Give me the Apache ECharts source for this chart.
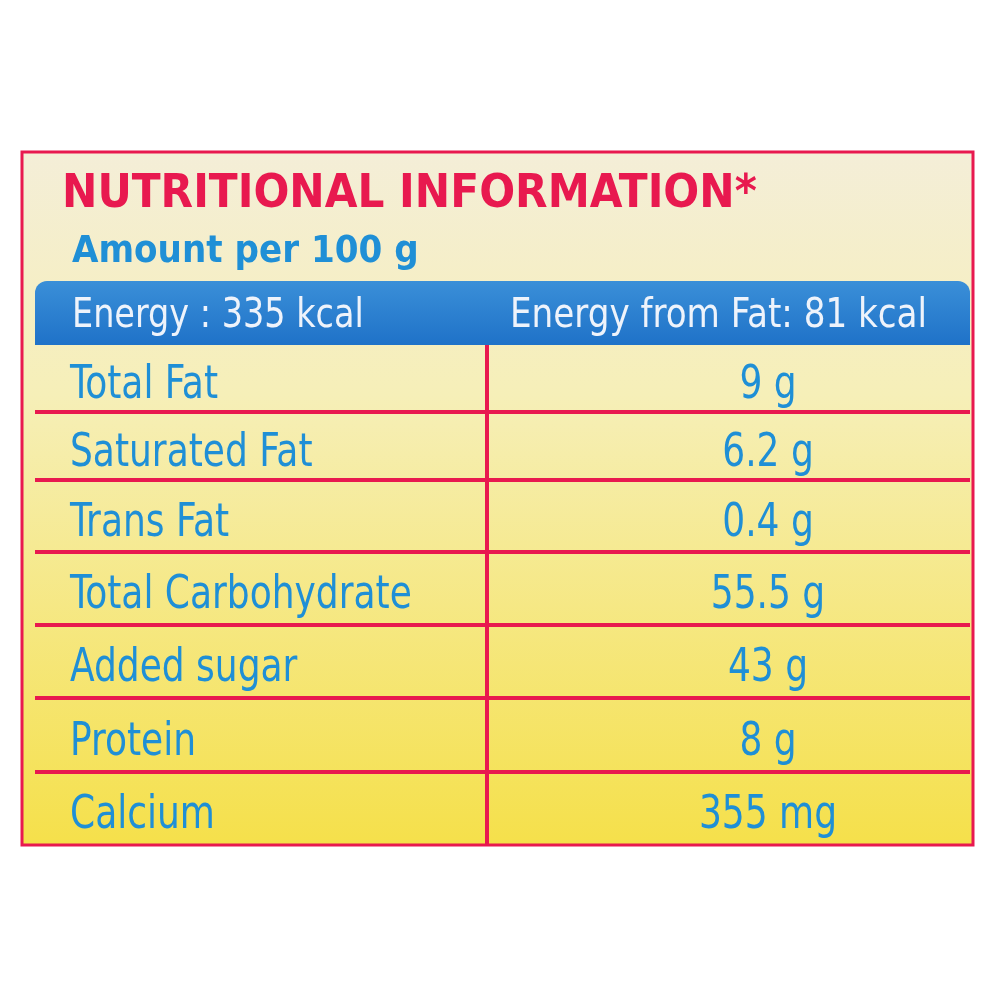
<!DOCTYPE html>
<html><head><meta charset="utf-8">
<script src="https://cdn.jsdelivr.net/npm/echarts@6/dist/echarts.min.js"></script>
<style>html,body{margin:0;padding:0;background:#fff}#c{width:1000px;height:1000px}</style>
</head><body><div id="c"></div>
<script>
const title = "NUTRITIONAL INFORMATION*";
const subtitle = "Amount per 100 g";
const headerLabels = ["Energy : 335 kcal", "Energy from Fat: 81 kcal"];
const nutrients = ["Total Fat","Saturated Fat","Trans Fat","Total Carbohydrate","Added sugar","Protein","Calcium"];
const amounts = ["9 g","6.2 g","0.4 g","55.5 g","43 g","8 g","355 mg"];

(function(){
const chart = echarts.init(document.getElementById('c'));
const L = 22, R = 973, T = 152, B = 845;
const divX = 487;
const rowBounds = [345, 412, 480, 552, 625, 698, 772, 845];
const cond = '"DejaVu Sans Condensed",sans-serif';
const blue = '#1f8fd6', red = '#e8194f';
const g = [];
g.push({type:'rect', shape:{x:L,y:T,width:R-L,height:B-T},
  style:{fill:new echarts.graphic.LinearGradient(0,0,0,1,[{offset:0,color:'#f4eed8'},{offset:0.35,color:'#f6efb8'},{offset:1,color:'#f5e04a'}]),stroke:red,lineWidth:3}});
g.push({type:'text', x:62, y:195, style:{text:title, fill:red, font:'bold 47px '+cond, verticalAlign:'middle'}});
g.push({type:'text', x:72, y:252, style:{text:subtitle, fill:blue, font:'bold 38px '+cond, verticalAlign:'middle'}});
g.push({type:'rect', shape:{x:35,y:281,width:935,height:64,r:[12,12,0,0]},
  style:{fill:new echarts.graphic.LinearGradient(0,0,0,1,[{offset:0,color:'#3a8fd8'},{offset:1,color:'#1f72c8'}])}});
g.push({type:'text', x:72, y:317, scaleX:0.93, style:{text:headerLabels[0], fill:'#eef3fb', font:'40px '+cond, verticalAlign:'middle'}});
g.push({type:'text', x:510, y:317, scaleX:0.95, style:{text:headerLabels[1], fill:'#eef3fb', font:'40px '+cond, verticalAlign:'middle'}});
g.push({type:'line', shape:{x1:divX,y1:345,x2:divX,y2:B}, style:{stroke:red,lineWidth:4}});
for (let i=1;i<rowBounds.length-1;i++){
  g.push({type:'line', shape:{x1:35,y1:rowBounds[i],x2:970,y2:rowBounds[i]}, style:{stroke:red,lineWidth:4}});
}
nutrients.forEach((n,i)=>{
  const cy = (rowBounds[i]+rowBounds[i+1])/2 + 8;
  g.push({type:'text', x:70, y:cy, scaleX:0.87, style:{text:n, fill:blue, font:'46px '+cond, verticalAlign:'middle'}});
  g.push({type:'text', x:768, y:cy, scaleX:0.87, style:{text:amounts[i], fill:blue, font:'46px '+cond, verticalAlign:'middle', align:'center'}});
});
chart.setOption({animation:false, graphic:{elements:g}});
})();
</script></body></html>
